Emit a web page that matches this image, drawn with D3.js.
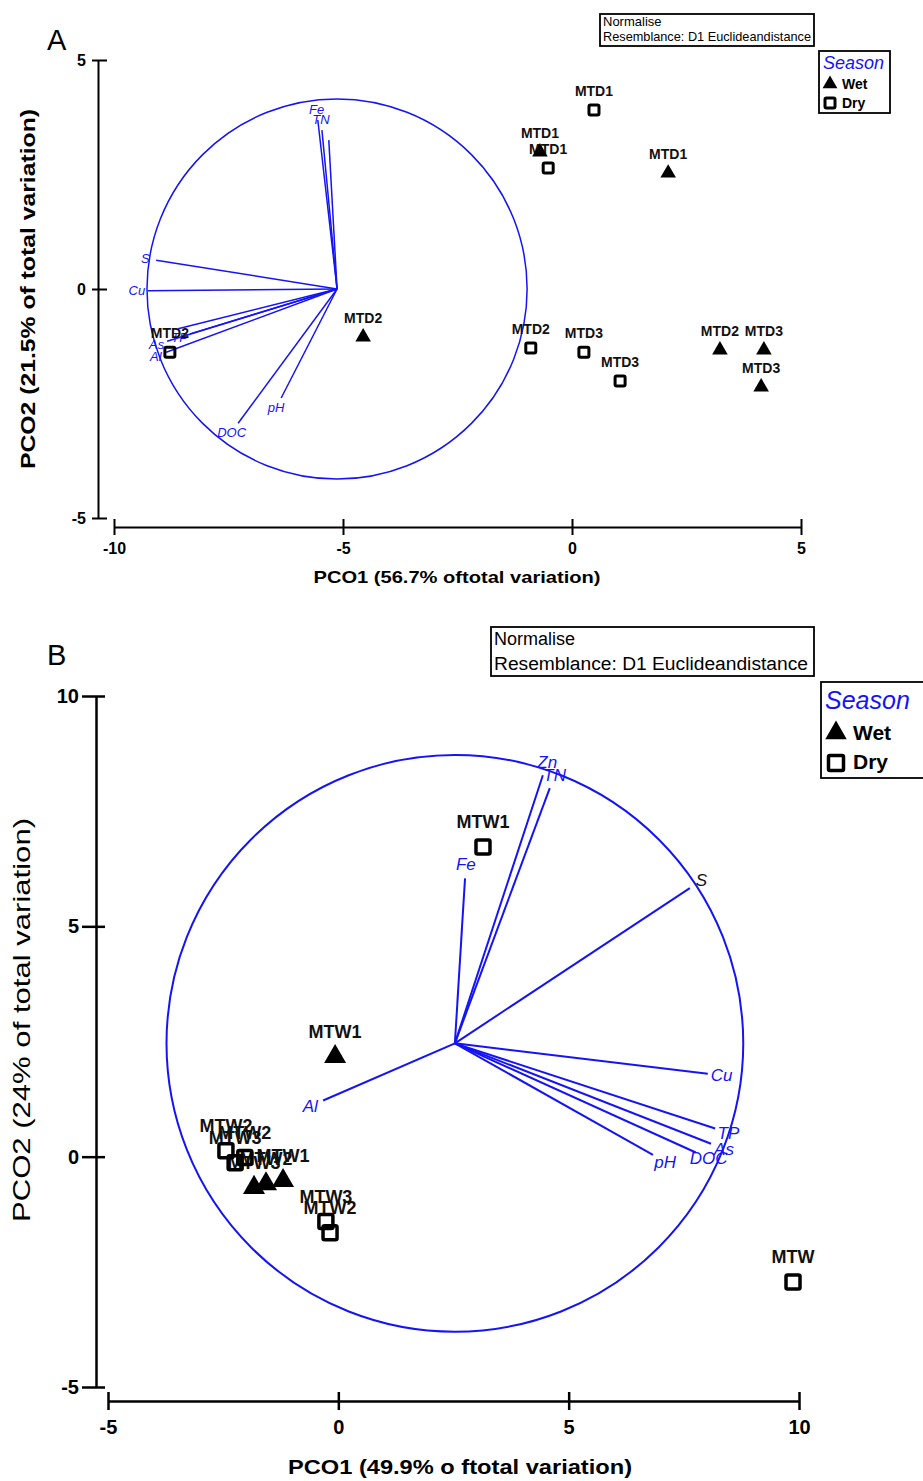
<!DOCTYPE html>
<html><head><meta charset="utf-8">
<script src="https://cdn.jsdelivr.net/npm/d3@7"></script>
<style>body{margin:0;background:#fff} svg{display:block;font-family:"Liberation Sans",Arial,sans-serif}</style>
</head><body><svg id="c" width="923" height="1481"></svg>
<script>
// ---------- Panel A data ----------
const ticksA_x = [-10, -5, 0, 5];
const ticksA_y = [-5, 0, 5];
const vecA_names = ["Fe", "TN", "", "S", "Cu", "", "TP", "As", "Al", "DOC", "pH"];
const vecA_x = [-5.55, -5.46, -5.31, -9.08, -9.26, -8.60, -8.34, -8.84, -8.86, -7.29, -6.35];
const vecA_y = [3.69, 3.47, 3.25, 0.63, -0.04, -0.87, -0.98, -1.14, -1.38, -2.93, -2.38];
const originA = [-5.13, 0];
const radiusA = 4.15;
const sampA_names = ["MTD1", "MTD1", "MTD1", "MTD1", "MTD2", "MTD2", "MTD2", "MTD3", "MTD3", "MTD2", "MTD3", "MTD3"];
const sampA_season = ["Dry", "Wet", "Dry", "Wet", "Dry", "Wet", "Dry", "Dry", "Dry", "Wet", "Wet", "Wet"];
const sampA_x = [0.48, -0.70, -0.52, 2.10, -8.78, -4.56, -0.90, 0.26, 1.05, 3.23, 4.19, 4.13];
const sampA_y = [3.91, 2.99, 2.64, 2.53, -1.38, -1.05, -1.29, -1.38, -2.01, -1.33, -1.33, -2.14];

// ---------- Panel B data ----------
const ticksB_x = [-5, 0, 5, 10];
const ticksB_y = [-5, 0, 5, 10];
const vecB_names = ["Zn", "TN", "Fe", "S", "Cu", "TP", "As", "DOC", "pH", "Al"];
const vecB_x = [4.44, 4.59, 2.75, 7.63, 8.02, 8.18, 8.09, 7.76, 6.83, -0.33];
const vecB_y = [8.28, 8.00, 6.04, 5.83, 1.80, 0.61, 0.28, 0.09, 0.04, 1.22];
const originB = [2.53, 2.46];
const radiusB = 6.26;
const sampB_names = ["MTW1", "MTW1", "MTW2", "MTW3", "MTW2", "MTW3", "MTW2", "MTW1", "MTW3", "MTW2", "MTW"];
const sampB_season = ["Dry", "Wet", "Dry", "Dry", "Dry", "Wet", "Wet", "Wet", "Dry", "Dry", "Dry"];
const sampB_x = [3.14, -0.07, -2.44, -2.24, -2.03, -1.83, -1.57, -1.20, -0.27, -0.18, 9.87];
const sampB_y = [6.72, 2.17, 0.13, -0.13, -0.02, -0.67, -0.59, -0.52, -1.41, -1.65, -2.72];

const seasons = ["Wet", "Dry"];
const BLUE = "#1414f5";
const svg = d3.select("#c");
const fmt = d => String(d);

function panel(cfg) {
  const x = d3.scaleLinear().domain(cfg.xDom).range(cfg.xRange);
  const y = d3.scaleLinear().domain(cfg.yDom).range(cfg.yRange);
  const g = svg.append("g");

  // axes
  const ay = d3.axisLeft(y).tickValues(cfg.yTicks).tickSizeOuter(0).tickSizeInner(cfg.tIn).tickPadding(cfg.tPad).tickFormat(fmt);
  const gy = g.append("g").attr("transform", `translate(${cfg.yAxisX},0)`).call(ay);
  const ax = d3.axisBottom(x).tickValues(cfg.xTicks).tickSizeOuter(0).tickSizeInner(cfg.tX).tickPadding(cfg.tXPad).tickFormat(fmt);
  const gx = g.append("g").attr("transform", `translate(0,${cfg.xAxisY})`).call(ax);
  [gy, gx].forEach(a => {
    a.attr("font-family", '"Liberation Sans",Arial,sans-serif').attr("font-size", cfg.tickFont).attr("font-weight", "bold");
    a.select(".domain").attr("stroke", "#000").attr("stroke-width", cfg.axW);
    a.selectAll(".tick line").attr("stroke", "#000").attr("stroke-width", cfg.axW);
    a.selectAll(".tick text").attr("fill", "#000");
  });
  gy.selectAll(".tick line").attr("x1", cfg.tOut);
  gx.selectAll(".tick line").attr("y1", -cfg.tX);

  // circle
  const ox = x(cfg.origin[0]), oy = y(cfg.origin[1]);
  const rpx = x(cfg.radius) - x(0);
  g.append("circle").attr("cx", ox).attr("cy", oy).attr("r", rpx)
    .attr("fill", "none").attr("stroke", BLUE).attr("stroke-width", cfg.vecW);

  // vectors
  cfg.vx.forEach((vx, i) => {
    const ex = x(vx), ey = y(cfg.vy[i]);
    g.append("line").attr("x1", ox).attr("y1", oy).attr("x2", ex).attr("y2", ey)
      .attr("stroke", BLUE).attr("stroke-width", cfg.vecW);
    if (cfg.vn[i]) {
      const dx = ex - ox, dy = ey - oy, L = Math.hypot(dx, dy);
      g.append("text").attr("x", ex + dx / L * cfg.lblOff).attr("y", ey + dy / L * cfg.lblOff)
        .attr("dy", "0.35em").attr("text-anchor", "middle")
        .attr("font-style", "italic").attr("font-size", cfg.vecFont)
        .attr("fill", (cfg.blackS && cfg.vn[i] === "S") ? "#111" : BLUE).text(cfg.vn[i]);
    }
  });

  // samples
  const tri = d3.symbol().type(d3.symbolTriangle).size(cfg.triSize)();
  cfg.sx.forEach((sx, i) => {
    const px = x(sx), py = y(cfg.sy[i]);
    g.append("text").attr("x", px).attr("y", py - cfg.ptLblOff).attr("text-anchor", "middle")
      .attr("font-weight", "bold").attr("font-size", cfg.ptFont).attr("fill", "#111").text(cfg.sn[i]);
  });
  cfg.sx.forEach((sx, i) => {
    const px = x(sx), py = y(cfg.sy[i]);
    if (cfg.ss[i] === "Wet") {
      g.append("path").attr("d", tri).attr("transform", `translate(${px},${py})`).attr("fill", "#000");
    } else {
      const s = cfg.sq;
      g.append("rect").attr("x", px - s / 2).attr("y", py - s / 2).attr("width", s).attr("height", s)
        .attr("rx", 1.5).attr("fill", "none").attr("stroke", "#000").attr("stroke-width", cfg.sqW);
    }
  });
  return { x, y, g };
}

// Panel A
panel({
  xDom: [-10, 5], xRange: [114, 801], yDom: [-5, 5], yRange: [518, 60],
  xTicks: ticksA_x, yTicks: ticksA_y, yAxisX: 98, xAxisY: 527,
  tIn: 6, tOut: 9, tPad: 6, tX: 8, tXPad: 8, tickFont: 16, axW: 2,
  origin: originA, radius: radiusA, vx: vecA_x, vy: vecA_y, vn: vecA_names,
  vecW: 1.5, vecFont: 13, lblOff: 11, blackS: false,
  sx: sampA_x, sy: sampA_y, sn: sampA_names, ss: sampA_season,
  triSize: 105, sq: 10, sqW: 3, ptFont: 14, ptLblOff: 14
});

// Panel B
panel({
  xDom: [-5, 10], xRange: [108, 799], yDom: [-5, 10], yRange: [1387, 696],
  xTicks: ticksB_x, yTicks: ticksB_y, yAxisX: 96, xAxisY: 1401,
  tIn: 14, tOut: 9, tPad: 3, tX: 9, tXPad: 10, tickFont: 20, axW: 2.5,
  origin: originB, radius: radiusB, vx: vecB_x, vy: vecB_y, vn: vecB_names,
  vecW: 2, vecFont: 17, lblOff: 14, blackS: true,
  sx: sampB_x, sy: sampB_y, sn: sampB_names, ss: sampB_season,
  triSize: 210, sq: 14, sqW: 3.5, ptFont: 18, ptLblOff: 19
});

// Panel letters
svg.append("text").attr("x", 47).attr("y", 50).attr("font-size", 29).text("A");
svg.append("text").attr("x", 47).attr("y", 665).attr("font-size", 29).text("B");

// Axis titles
svg.append("text").attr("x", 457).attr("y", 583).attr("text-anchor", "middle").attr("font-weight", "bold")
  .attr("font-size", 17).attr("textLength", 287).attr("lengthAdjust", "spacingAndGlyphs").text("PCO1 (56.7% oftotal variation)");
svg.append("text").attr("transform", "translate(35,289) rotate(-90)").attr("text-anchor", "middle").attr("font-weight", "bold")
  .attr("font-size", 20).attr("textLength", 360).attr("lengthAdjust", "spacingAndGlyphs").text("PCO2 (21.5% of total variation)");
svg.append("text").attr("x", 460).attr("y", 1474).attr("text-anchor", "middle").attr("font-weight", "bold")
  .attr("font-size", 20).attr("textLength", 344).attr("lengthAdjust", "spacingAndGlyphs").text("PCO1 (49.9% o ftotal variation)");
svg.append("text").attr("transform", "translate(30,1020) rotate(-90)").attr("text-anchor", "middle")
  .attr("font-size", 24).attr("textLength", 404).attr("lengthAdjust", "spacingAndGlyphs").text("PCO2 (24% of total variation)");

// Info boxes
function infoBox(x0, y0, w, h, fs, y1, y2, len) {
  svg.append("rect").attr("x", x0).attr("y", y0).attr("width", w).attr("height", h)
    .attr("fill", "#fff").attr("stroke", "#000").attr("stroke-width", 1.8);
  svg.append("text").attr("x", x0 + 3).attr("y", y1).attr("font-size", fs).text("Normalise");
  svg.append("text").attr("x", x0 + 3).attr("y", y2).attr("font-size", fs)
    .attr("textLength", len).attr("lengthAdjust", "spacingAndGlyphs").text("Resemblance: D1 Euclideandistance");
}
infoBox(600, 14, 214, 32, 13, 26, 41, 208);
infoBox(491, 627, 323, 49, 18, 645, 670, 314);

// Legends
function legend(x0, y0, w, h, tFs, tY, items) {
  svg.append("rect").attr("x", x0).attr("y", y0).attr("width", w).attr("height", h)
    .attr("fill", "#fff").attr("stroke", "#000").attr("stroke-width", 1.8);
  svg.append("text").attr("x", x0 + 4).attr("y", tY).attr("font-style", "italic").attr("font-size", tFs)
    .attr("fill", BLUE).text("Season");
  items.forEach(it => {
    if (it.s === "Wet") {
      svg.append("path").attr("d", d3.symbol().type(d3.symbolTriangle).size(it.size)())
        .attr("transform", `translate(${it.cx},${it.cy})`).attr("fill", "#000");
    } else {
      svg.append("rect").attr("x", it.cx - it.sq / 2).attr("y", it.cy - it.sq / 2).attr("width", it.sq).attr("height", it.sq)
        .attr("rx", 1.5).attr("fill", "none").attr("stroke", "#000").attr("stroke-width", it.sw);
    }
    svg.append("text").attr("x", it.tx).attr("y", it.ty).attr("font-weight", "bold").attr("font-size", it.fs).text(it.s);
  });
}
legend(819, 51, 71, 62, 18, 69, [
  { s: seasons[0], cx: 830, cy: 84, size: 95, tx: 842, ty: 89, fs: 14 },
  { s: seasons[1], cx: 830, cy: 103, sq: 10, sw: 3, tx: 842, ty: 108, fs: 14 }
]);
legend(821, 682, 120, 96, 25, 709, [
  { s: seasons[0], cx: 836, cy: 733, size: 200, tx: 853, ty: 740, fs: 21 },
  { s: seasons[1], cx: 836, cy: 763, sq: 15, sw: 3.5, tx: 853, ty: 769, fs: 21 }
]);
</script></body></html>
